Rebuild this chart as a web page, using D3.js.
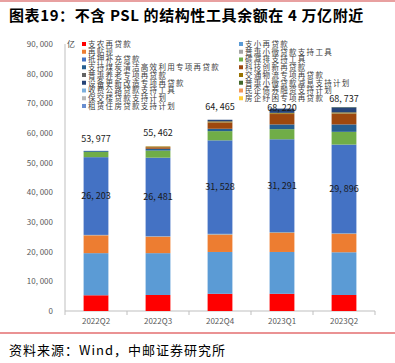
<!DOCTYPE html>
<html lang="zh">
<head>
    <meta charset="UTF-8">
    <title>结构性工具余额</title>
    <script src="https://d3js.org/d3.v7.min.js"></script>
    <style>
        body { margin: 0; background: #fff; }
        text { font-family: "Noto Sans CJK SC", sans-serif; }
        .axis path, .axis line { stroke: #bfbfbf; }
        .axis text { fill: #595959; font-size: 8px; }
    </style>
</head>
<body>
    <svg width="395" height="363"></svg>
    <script>
        const quarters = ["2022Q2", "2022Q3", "2022Q4", "2023Q1", "2023Q2"];

        // stack order = legend order (row by row)
        const seriesNames = [
            "支农再贷款", "支小再贷款", "再贴现", "普惠小微贷款支持工具",
            "抵押补充贷款", "碳减排支持工具", "支持煤炭清洁高效利用专项再贷款", "科技创新再贷款",
            "普惠养老专项再贷款", "交通物流专项再贷款", "设备更新改造专项再贷款", "普惠小微贷款减息支持计划",
            "收费公路贷款支持工具", "民企债券融资支持计划", "保交楼贷款支持计划", "房企纾困专项再贷款",
            "租赁住房贷款支持计划"
        ];
        const seriesColors = [
            "#ff0000", "#5b9bd5", "#ed7d31", "#a5a5a5",
            "#4472c4", "#70ad47", "#255e91", "#9e480e",
            "#636363", "#997300", "#264478", "#43682b",
            "#7cafdd", "#f1975a", "#b7b7b7", "#ffcd33",
            "#698ed0"
        ];

        const zhinong   = [5300, 5400, 5800, 5800, 5400];
        const zhixiao   = [14200, 14100, 14100, 14100, 14400];
        const zaitiexian = [6000, 5500, 5800, 6400, 6150];
        const puhuiTool = [150, 200, 300, 300, 250];
        const psl       = [26203, 26481, 31528, 31291, 29896];
        const tanjianpai = [1800, 2400, 3100, 3400, 4300];
        const meitan    = [324, 600, 800, 1600, 2500];
        const keji      = [0, 500, 2100, 3500, 3600];
        const yanglao   = [0, 0, 50, 100, 100];
        const jiaotong  = [0, 281, 350, 300, 350];
        const shebei    = [0, 0, 537, 1429, 1700];
        const jianxi    = [0, 0, 0, 0, 91];
        const shoufei   = [0, 0, 0, 0, 0];
        const minqi     = [0, 0, 0, 0, 0];
        const baojiaolou = [0, 0, 0, 0, 0];
        const fangqi    = [0, 0, 0, 0, 0];
        const zulin     = [0, 0, 0, 0, 0];
        const totals    = [53977, 55462, 64465, 68220, 68737];

        const yTicks = [0, 10000, 20000, 30000, 40000, 50000, 60000, 70000, 80000, 90000];

        const seriesValues = [zhinong, zhixiao, zaitiexian, puhuiTool, psl, tanjianpai, meitan, keji,
            yanglao, jiaotong, shebei, jianxi, shoufei, minqi, baojiaolou, fangqi, zulin];

        const table = quarters.map((q, i) => {
            const row = { q };
            seriesNames.forEach((s, j) => row[s] = seriesValues[j][i]);
            return row;
        });

        const svg = d3.select("svg");
        const fmt = v => d3.format(",")(v).replace(/,/g, ", ");

        // title and frame lines
        svg.append("line").attr("x1", 0).attr("x2", 395).attr("y1", 1).attr("y2", 1)
            .attr("stroke", "#e8a0a0").attr("stroke-width", 2);
        svg.append("text").attr("x", 9).attr("y", 21)
            .attr("font-size", 15).attr("font-weight", "bold").attr("letter-spacing", 0.6)
            .attr("fill", "#000")
            .text("图表19：不含 PSL 的结构性工具余额在 4 万亿附近");
        svg.append("line").attr("x1", 0).attr("x2", 395).attr("y1", 333).attr("y2", 333)
            .attr("stroke", "#d62728").attr("stroke-width", 1.2);
        svg.append("text").attr("x", 9).attr("y", 355)
            .attr("font-size", 13).attr("letter-spacing", 1).attr("fill", "#000")
            .text("资料来源：Wind，中邮证券研究所");

        const x = d3.scaleBand().domain(quarters).range([65, 375])
            .paddingInner(0.6).paddingOuter(0.3);
        const y = d3.scaleLinear().domain([0, 90000]).range([311, 44]);

        // y axis
        const yAxis = svg.append("g").attr("class", "axis")
            .attr("transform", "translate(65,0)")
            .call(d3.axisLeft(y).tickValues(yTicks).tickSize(0).tickPadding(12).tickFormat(fmt));
        yAxis.select(".domain").attr("d", `M0,${y(90000)}V${y(0)}`);

        // x axis
        const xAxis = svg.append("g").attr("class", "axis")
            .attr("transform", "translate(0,311)")
            .call(d3.axisBottom(x).tickSize(0).tickPadding(7));
        xAxis.select(".domain").attr("d", "M65,0H375");
        const step = x.step();
        xAxis.selectAll(".sep").data(d3.range(quarters.length + 1)).enter()
            .append("line").attr("class", "sep")
            .attr("x1", i => 65 + i * step).attr("x2", i => 65 + i * step)
            .attr("y1", 0).attr("y2", 4).attr("stroke", "#bfbfbf");

        // bars
        const stacked = d3.stack().keys(seriesNames)(table);
        svg.append("g").selectAll("g").data(stacked).enter().append("g")
            .attr("fill", (d, i) => seriesColors[i])
            .selectAll("rect").data(d => d).enter().append("rect")
            .attr("x", d => x(d.data.q))
            .attr("width", x.bandwidth())
            .attr("y", d => y(d[1]))
            .attr("height", d => y(d[0]) - y(d[1]));

        // PSL labels in the middle of the PSL segment
        const pslLayer = stacked[seriesNames.indexOf("抵押补充贷款")];
        svg.append("g").selectAll("text").data(pslLayer).enter().append("text")
            .attr("x", d => x(d.data.q) + x.bandwidth() / 2)
            .attr("y", d => (y(d[0]) + y(d[1])) / 2 + 3)
            .attr("text-anchor", "middle").attr("font-size", 9).attr("fill", "#1a1a1a")
            .text((d, i) => fmt(psl[i]));

        // total labels
        const totalLift = [12, 13, 13, 1, 8];
        svg.append("g").selectAll("text").data(totals).enter().append("text")
            .attr("x", (d, i) => x(quarters[i]) + x.bandwidth() / 2)
            .attr("y", (d, i) => y(d) - totalLift[i] + 3)
            .attr("text-anchor", "middle").attr("font-size", 9).attr("fill", "#1a1a1a")
            .text(fmt);

        // unit and legend
        svg.append("text").attr("x", 67).attr("y", 47).attr("font-size", 8).attr("fill", "#404040").text("亿");
        const rowH = 7.75;
        const legend = svg.append("g").selectAll("g").data(seriesNames).enter().append("g")
            .attr("transform", (d, i) => `translate(${i % 2 === 0 ? 82 : 239},${44 + Math.floor(i / 2) * rowH})`);
        legend.append("rect").attr("x", 0).attr("y", -2).attr("width", 4).attr("height", 4)
            .attr("fill", (d, i) => seriesColors[i]);
        legend.append("text").attr("x", 6).attr("y", 2.8).attr("font-size", 7.5)
            .attr("letter-spacing", 1.3).attr("fill", "#404040")
            .text(d => d);
    </script>
</body>
</html>
